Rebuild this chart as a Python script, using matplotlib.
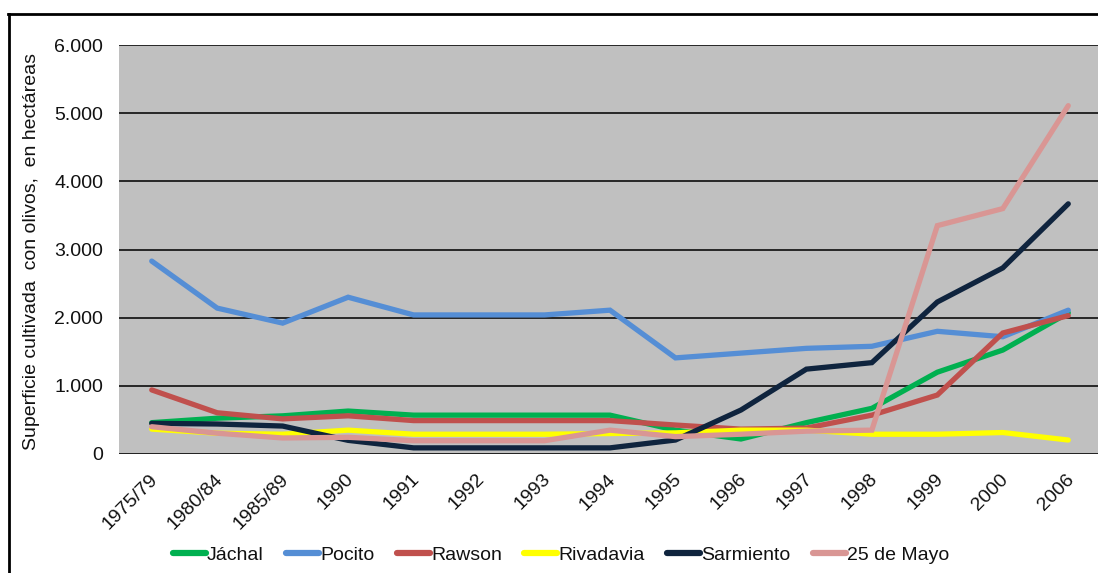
import numpy as np
import matplotlib
matplotlib.use("Agg")
import matplotlib.pyplot as plt
from matplotlib.lines import Line2D
from matplotlib.transforms import ScaledTranslation

plt.rcParams["font.family"] = ["Liberation Sans", "DejaVu Sans"]

# ── Data: cultivated olive area per department (ha) ─────────────────────────────
periods = ["1975/79", "1980/84", "1985/89", "1990", "1991", "1992", "1993",
           "1994", "1995", "1996", "1997", "1998", "1999", "2000", "2006"]

jachal     = [460, 525, 560, 630, 570, 570, 570, 570, 350, 220, 460, 670, 1200, 1525, 2070]
pocito     = [2830, 2140, 1920, 2300, 2040, 2040, 2040, 2110, 1410, 1480, 1550, 1580, 1800, 1720, 2110]
rawson     = [940, 605, 515, 560, 490, 490, 490, 490, 425, 365, 380, 570, 865, 1775, 2030]
rivadavia  = [365, 305, 290, 350, 290, 290, 290, 300, 310, 350, 350, 290, 290, 315, 205]
sarmiento  = [450, 440, 410, 200, 90, 90, 90, 90, 205, 645, 1245, 1340, 2230, 2730, 3670]
veinticinco = [400, 305, 235, 245, 195, 195, 195, 350, 255, 290, 335, 350, 3350, 3600, 5110]

series = [
    ("Jáchal", jachal, "#00B050"),
    ("Pocito", pocito, "#558ED5"),
    ("Rawson", rawson, "#C0504D"),
    ("Rivadavia", rivadavia, "#FFFF00"),
    ("Sarmiento", sarmiento, "#0F243E"),
    ("25 de Mayo", veinticinco, "#D99694"),
]

W, H = 1098, 573
fig = plt.figure(figsize=(W / 100, H / 100), dpi=100)
ax = fig.add_axes([119 / W, 1 - 454 / H, 982 / W, 409 / H])
ax.set_facecolor("#C0C0C0")

x = np.arange(len(periods))
for name, vals, color in series:
    ax.plot(x, vals, color=color, lw=3.8, label=name,
            solid_capstyle="round", solid_joinstyle="miter")

ax.set_xlim(-0.5, len(periods) - 0.5)
ax.set_ylim(0, 6000)
ax.set_yticks(np.arange(0, 6001, 1000))
ax.set_yticklabels(["0", "1.000", "2.000", "3.000", "4.000", "5.000", "6.000"])
ax.yaxis.grid(True, color="#1a1a1a", lw=1.3)
ax.set_axisbelow(True)
for s in ax.spines.values():
    s.set_visible(False)
ax.axhline(0, color="#808080", lw=2, zorder=0.5)

ax.set_xticks(x)
ax.set_xticklabels(periods, rotation=45, ha="right", rotation_mode="anchor")
ax.tick_params(axis="both", length=0, labelsize=14, colors="#111111")
ax.tick_params(axis="y", pad=11.5)
ax.tick_params(axis="x", pad=12)
# nudge the slanted category labels a little to the left
shift = ScaledTranslation(-3 / 100, 0, fig.dpi_scale_trans)
for lbl in ax.get_xticklabels():
    lbl.set_transform(lbl.get_transform() + shift)

fig.text(32 / W, 1 - 252 / H, "Superficie cultivada  con olivos,  en hectáreas",
         rotation=90, ha="center", va="center", fontsize=14, color="#111111")

leg = fig.legend(loc="center", bbox_to_anchor=(561 / W, 1 - 555 / H), ncol=6,
                 frameon=False, fontsize=14, handlelength=1.7,
                 handletextpad=0.05, columnspacing=1.15)
for h in leg.legend_handles:
    h.set_linewidth(4.5)
for t in leg.get_texts():
    t.set_color("#111111")

# outer frame (top and left edges)
fig.add_artist(Line2D([8 / W, 1.0], [1 - 14 / H, 1 - 14 / H], color="black", lw=2))
fig.add_artist(Line2D([9 / W, 9 / W], [0, 1 - 14 / H], color="black", lw=2))

fig.savefig("out.png", dpi=100)
